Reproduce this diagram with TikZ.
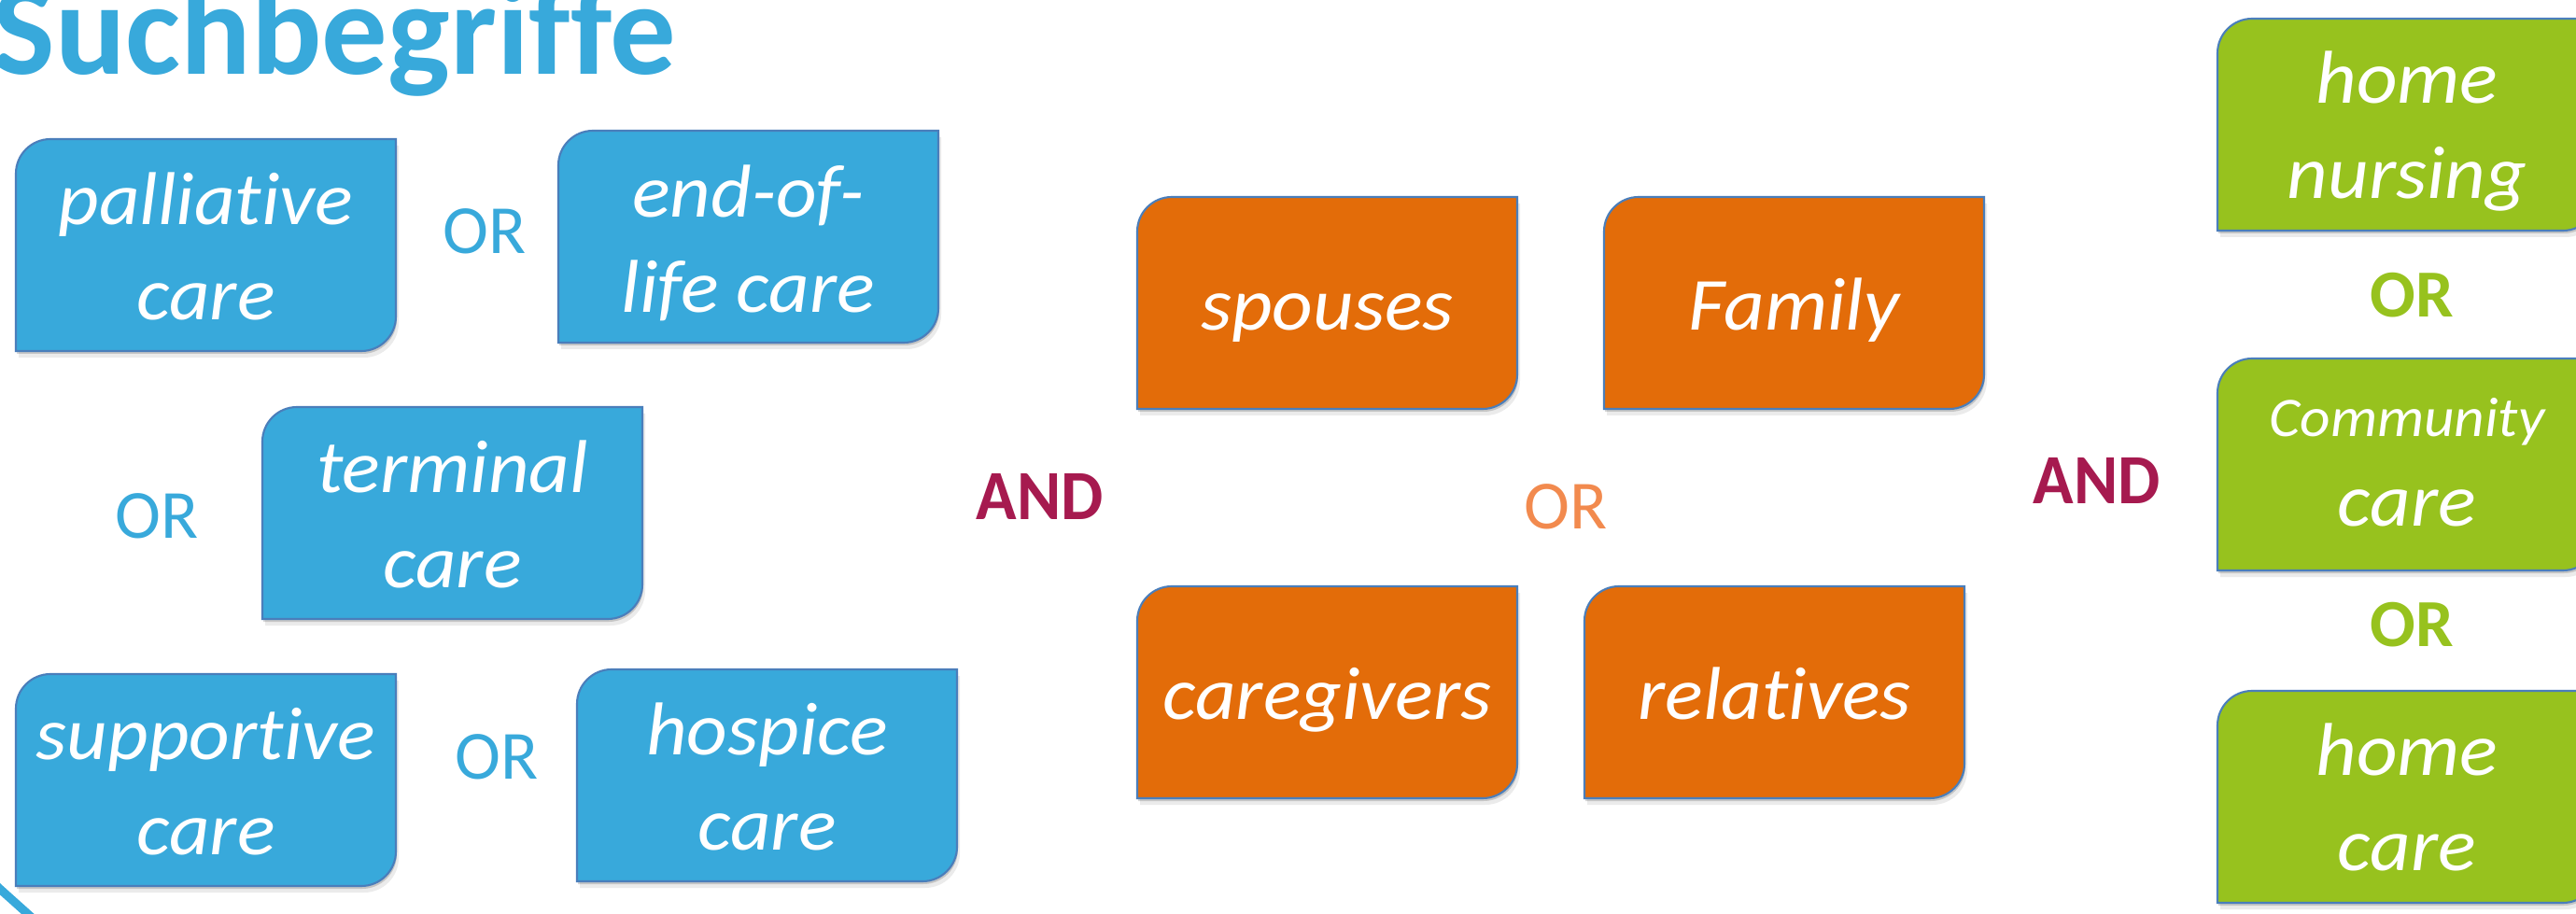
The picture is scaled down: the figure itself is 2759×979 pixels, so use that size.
\documentclass[tikz,border=0pt]{standalone}
\usepackage{fontspec}
\defaultfontfeatures{Ligatures={NoCommon,NoContextual}, Contextuals={NoAlternate}, RawFeature={-liga;-clig;-calt;-dlig}}
\newfontfamily\calfnt{Carlito}
\newfontfamily\calwide{Carlito}[FakeStretch=1.06]
\newfontfamily\calnarrow{Carlito}[FakeStretch=0.95]
\definecolor{cblue}{HTML}{38A9DB}
\definecolor{corange}{HTML}{E36C09}
\definecolor{cgreen}{HTML}{97C21E}
\definecolor{cline}{HTML}{4A7EBB}
\definecolor{cand}{HTML}{A61A4F}
\definecolor{cor}{HTML}{F28A4E}
% box outline: top-left and bottom-right rounded (width 407, height 227)
\newcommand\boxshape[3]{%
  \path[#3] (#1,#2+227) -- (#1,#2+37) .. controls (#1,#2+16.6) and (#1+16.6,#2) .. (#1+37,#2)
    -- (#1+407,#2) -- (#1+407,#2+190) .. controls (#1+407,#2+210.4) and (#1+390.4,#2+227) .. (#1+370,#2+227) -- cycle;}
\newcommand\shadedbox[3]{% x1, y1, fill
  \boxshape{#1+1}{#2+3}{fill=black, opacity=0.16}
  \boxshape{#1+3}{#2+7}{fill=black, opacity=0.08}
  \boxshape{#1}{#2}{fill=#3, draw=cline, line width=0.6pt}}
\begin{document}
\begin{tikzpicture}[x=0.01cm, y=-0.01cm,
  boxtext/.style={text=white, align=center, inner sep=0pt,
    font=\calwide\itshape\fontsize{22.8}{29}\selectfont},
  ortext/.style={text=cblue, inner sep=0pt, anchor=base, font=\calfnt\fontsize{21}{25}\selectfont},
  andtext/.style={text=cand, inner sep=0pt, anchor=base, font=\calnarrow\bfseries\fontsize{21.5}{25}\selectfont},
  greenor/.style={text=cgreen, inner sep=0pt, anchor=base, font=\calfnt\bfseries\fontsize{20.5}{25}\selectfont},
  titletext/.style={text=cblue, inner sep=0pt, anchor=base west, font=\calfnt\bfseries\fontsize{40}{48}\selectfont}]
\useasboundingbox (0,0) rectangle (2759,979);
\clip (0,0) rectangle (2759,979);
\fill[white] (0,0) rectangle (2759,979);

\node[titletext] (title) at (-8,80) {Suchbegriffe};

% decorative arc at bottom left
\draw[cblue, line width=2.6pt] (-10,943) .. controls (5,957) and (20,970) .. (42,990);

% blue boxes
\shadedbox{17}{149}{cblue}
\node[boxtext] (palliative) at (220.5,271) {\strut palliative\\\strut care};
\shadedbox{598}{140}{cblue}
\node[boxtext] (endoflife) at (801.5,263) {\strut end-of-\\\strut life care};
\shadedbox{281}{436}{cblue}
\node[boxtext] (terminal) at (484.5,558.5) {\strut terminal\\\strut care};
\shadedbox{17}{722}{cblue}
\node[boxtext] (supportive) at (220.5,844) {\strut supportive\\\strut care};
\shadedbox{618}{717}{cblue}
\node[boxtext] (hospice) at (821.5,839) {\strut hospice\\\strut care};

\node[ortext] (or1) at (519,272) {OR};
\node[ortext] (or2) at (168,576) {OR};
\node[ortext] (or3) at (532,834) {OR};

\node[andtext] (and1) at (1114,556) {AND};

% orange boxes
\shadedbox{1218}{211}{corange}
\node[boxtext] (spouses) at (1421.5,333) {\strut spouses};
\shadedbox{1718}{211}{corange}
\node[boxtext] (family) at (1921.5,333) {\strut Family};
\shadedbox{1218}{628}{corange}
\node[boxtext] (caregivers) at (1421.5,750) {\strut caregivers};
\shadedbox{1697}{628}{corange}
\node[boxtext] (relatives) at (1900.5,750) {\strut relatives};

\node[ortext, text=cor] (or4) at (1677,567) {OR};

\node[andtext] (and2) at (2246,540) {AND};

% green boxes
\shadedbox{2375}{20}{cgreen}
\node[boxtext] (homenursing) at (2578,141) {\strut home\\\strut nursing};
\shadedbox{2375}{384}{cgreen}
\node[boxtext] (community) at (2578,495) {{\fontsize{17}{29}\selectfont\strut Community}\\[-1.7pt]\strut care};
\shadedbox{2375}{740}{cgreen}
\node[boxtext] (homecare) at (2578,861) {\strut home\\\strut care};

\node[greenor] (or5) at (2583,340) {OR};
\node[greenor] (or6) at (2583,692) {OR};
\end{tikzpicture}
\end{document}
